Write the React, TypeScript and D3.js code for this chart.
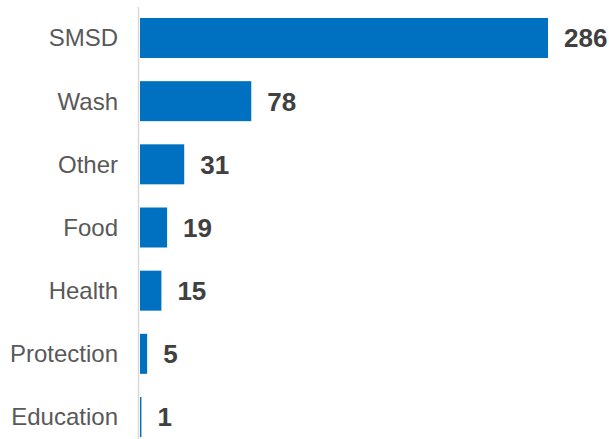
import React from "react";
import * as d3 from "d3";

const categories = ["SMSD", "Wash", "Other", "Food", "Health", "Protection", "Education"];
const values = [286, 78, 31, 19, 15, 5, 1];

export default function App() {
  const width = 609;
  const height = 439;
  const x = d3.scaleLinear().domain([0, 286]).range([140, 548]);
  const y = d3
    .scaleBand<string>()
    .domain(categories)
    .range([6.4, 448.6])
    .paddingInner(0.367)
    .paddingOuter(0.1835);
  const bw = y.bandwidth();
  return (
    <svg
      width={width}
      height={height}
      style={{ position: "absolute", left: 0, top: 0, fontFamily: "'Liberation Sans', Arial, sans-serif" }}
    >
      <rect width={width} height={height} fill="#ffffff" />
      {categories.map((c, i) => {
        const yy = y(c) as number;
        return (
          <g key={c}>
            <rect x={x(0)} y={yy} width={Math.max(0, x(values[i]) - x(0))} height={bw} fill="#0070c0" />
            <text
              x={118}
              y={yy + bw / 2}
              dy="0.35em"
              textAnchor="end"
              fontSize={24}
              fill="#595959"
            >
              {c}
            </text>
            <text
              x={x(values[i]) + 16}
              y={yy + bw / 2}
              dy="0.36em"
              textAnchor="start"
              fontSize={26}
              fontWeight="bold"
              fill="#404040"
            >
              {values[i]}
            </text>
          </g>
        );
      })}
      <line x1={138.5} x2={138.5} y1={7} y2={439} stroke="#d9d9d9" strokeWidth={1.5} />
    </svg>
  );
}
